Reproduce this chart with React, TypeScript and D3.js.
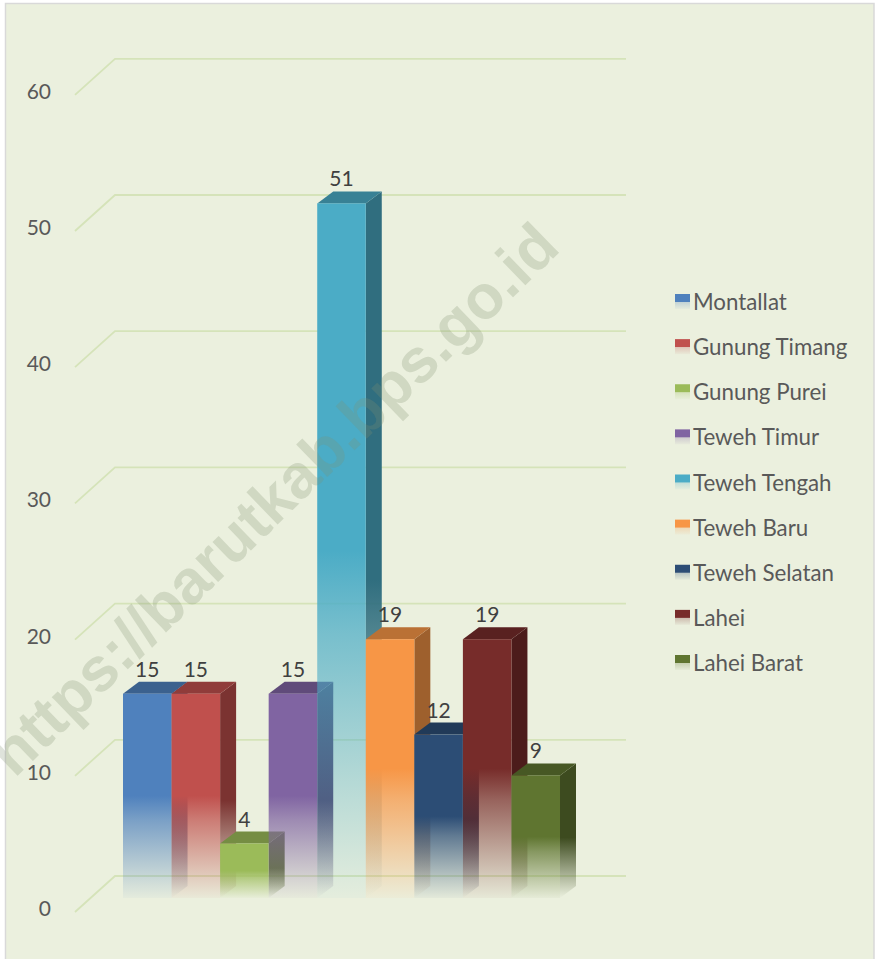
import * as d3 from 'd3';
import React from 'react';

const districts = [
  'Montallat',
  'Gunung Timang',
  'Gunung Purei',
  'Teweh Timur',
  'Teweh Tengah',
  'Teweh Baru',
  'Teweh Selatan',
  'Lahei',
  'Lahei Barat',
];
const counts = [15, 15, 4, 15, 51, 19, 12, 19, 9];
const colors = ['#4f81bd', '#c0504d', '#9bbb59', '#8064a2', '#4bacc6', '#f79646', '#2c4d75', '#772c2a', '#5f7530'];
const yTicks = [0, 10, 20, 30, 40, 50, 60];

const width = 875;
const height = 959;
const font = 'Lato, "Open Sans", sans-serif';

// 3D offset of the back wall from the front of the bars
const depthX = 16;
const depthY = 12;
const baseY = 898;
const pxPerUnit = 13.62;

const x = d3.scaleBand<string>().domain(districts).range([123, 560]);
const y = d3
  .scaleLinear()
  .domain([0, 60])
  .range([baseY, baseY - 60 * pxPerUnit]);

const legendY = d3.scalePoint<string>().domain(districts).range([302, 663]);

// gridlines sit a little lower than the bar backs, like in the Excel chart
const gridY = (v: number) => y(v) - 22;

export default function App() {
  const line = d3.line();
  const barW = x.bandwidth();

  return (
    <svg
      width={width}
      height={height}
      style={{ position: 'absolute', left: 0, top: 0, display: 'block' }}
    >
      <defs>
        {colors.map((c, i) => {
          const dark = d3.color(c)!.darker(1.25).formatHex();
          return (
            <React.Fragment key={c}>
              <linearGradient id={`front-${i}`} x1="0" y1="0" x2="0" y2="1">
                <stop offset="0" stopColor={c} />
                <stop offset="0.5" stopColor={c} />
                <stop offset="0.62" stopColor={c} stopOpacity={0.72} />
                <stop offset="1" stopColor={c} stopOpacity={0.04} />
              </linearGradient>
              <linearGradient id={`side-${i}`} x1="0" y1="0" x2="0" y2="1">
                <stop offset="0" stopColor={dark} />
                <stop offset="0.55" stopColor={dark} />
                <stop offset="0.96" stopColor={dark} stopOpacity={0.08} />
                <stop offset="1" stopColor={dark} stopOpacity={0} />
              </linearGradient>
              <linearGradient id={`key-${i}`} x1="0" y1="0" x2="0" y2="1">
                <stop offset="0" stopColor={c} />
                <stop offset="0.5" stopColor={c} />
                <stop offset="0.56" stopColor={c} stopOpacity={0.25} />
                <stop offset="1" stopColor={c} stopOpacity={0.04} />
              </linearGradient>
            </React.Fragment>
          );
        })}
      </defs>

      <rect x={0} y={0} width={width} height={height} fill="#ffffff" />
      <rect
        x={5.5}
        y={3.5}
        width={width - 6.5}
        height={height}
        fill="#ebf0de"
        stroke="#d9d9d9"
        strokeWidth={1.5}
      />

      {/* Gridlines */}
      {yTicks.map(t => (
        <g key={t}>
          <path
            d={
              line([
                [75, gridY(t) + 36],
                [115, gridY(t)],
                [626, gridY(t)],
              ]) as string
            }
            fill="none"
            stroke="#d5e3b9"
            strokeWidth={1.8}
          />
          <text
            x={51}
            y={gridY(t) + 40}
            textAnchor="end"
            fontFamily={font}
            fontSize={21}
            fill="#595959"
          >
            {t}
          </text>
        </g>
      ))}

      {/* Bars, left to right so each front fades over the previous side */}
      {districts.map((d, i) => {
        const x0 = x(d) as number;
        const x1 = x0 + barW;
        const top = y(counts[i]);
        const base = y(0);
        const c = colors[i];
        return (
          <g key={d}>
            <path
              d={
                line([
                  [x1, top],
                  [x1 + depthX, top - depthY],
                  [x1 + depthX, base - depthY],
                  [x1, base],
                ]) + 'Z'
              }
              fill={`url(#side-${i})`}
            />
            <path
              d={
                line([
                  [x0, top],
                  [x0 + depthX, top - depthY],
                  [x1 + depthX, top - depthY],
                  [x1, top],
                ]) + 'Z'
              }
              fill={d3.color(c)!.darker(0.8).formatHex()}
            />
            <rect
              x={x0}
              y={top}
              width={barW}
              height={base - top}
              fill={`url(#front-${i})`}
            />
          </g>
        );
      })}

      {/* Data labels */}
      {districts.map((d, i) => (
        <text
          key={d}
          x={(x(d) as number) + barW / 2}
          y={y(counts[i]) - 17}
          textAnchor="middle"
          fontFamily={font}
          fontSize={21}
          fill="#404040"
        >
          {counts[i]}
        </text>
      ))}

      {/* Legend */}
      {districts.map((d, i) => (
        <g key={d} transform={`translate(675,${legendY(d)})`}>
          <rect x={0} y={-8} width={15} height={15} fill={`url(#key-${i})`} />
          <text
            x={18}
            y={8}
            fontFamily={font}
            fontSize={22.3}
            fill="#595959"
          >
            {d}
          </text>
        </g>
      ))}

      {/* Watermark */}
      <text
        transform="translate(562,250) rotate(-44)"
        textAnchor="end"
        fontFamily='"Liberation Sans", Arial, sans-serif'
        fontWeight="bold"
        fontSize={62}
        fill="#7f8f70"
        fillOpacity={0.25}
      >
        https://barutkab.bps.go.id
      </text>
    </svg>
  );
}
